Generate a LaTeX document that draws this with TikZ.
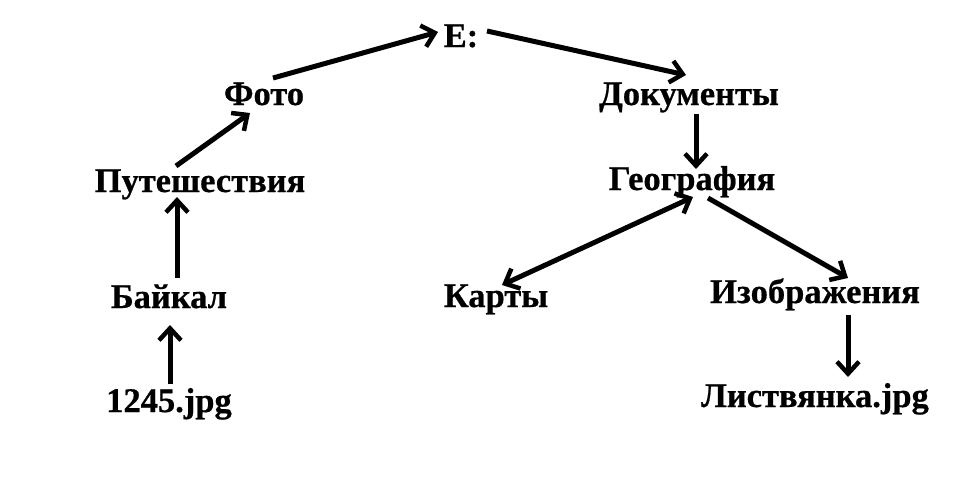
\documentclass[tikz,border=0pt]{standalone}
\usepackage{fontspec}
\setmainfont{Liberation Serif}[BoldFeatures={FakeBold=0.6}]
\usetikzlibrary{arrows.meta,calc}
\tikzset{barb/.tip={Straight Barb[length=12pt,width=22pt,line width=4.5pt]}}
\begin{document}
\begin{tikzpicture}[x=1pt,y=-1pt,
  lbl/.style={font=\fontsize{34.5}{38}\selectfont\bfseries, inner sep=0pt, anchor=base},
  arr/.style={line width=5pt, -barb},
  darr/.style={line width=5pt, barb-barb}]
\useasboundingbox (0,0) rectangle (962,485);
\node[lbl] (e) at (461,47) {E:};
\node[lbl] (foto) at (264,105) {Фото};
\node[lbl] (doc) at (689,105) {Документы};
\node[lbl] (put) at (200,192) {Путешествия};
\node[lbl] (geo) at (692,190) {География};
\node[lbl] (bai) at (169,308) {Байкал};
\node[lbl] (kar) at (496,307) {Карты};
\node[lbl] (izo) at (815,303) {Изображения};
\node[lbl] (jpg) at (169,412) {1245.jpg};
\node[lbl] (lis) at (815,407) {Листвянка.jpg};
\draw[arr] ($(foto.base)+(9,-27)$) -- ($(e.base)+(-23,-15)$);
\draw[arr] ($(e.base)+(26,-16)$) -- ($(doc.base)+(-3,-30)$);
\draw[arr] ($(put.base)+(-24,-26)$) -- ($(foto.base)+(-14,8)$);
\draw[arr] ($(bai.base)+(8,-30)$) -- ($(put.base)+(-23,5)$);
\draw[arr] ($(jpg.base)+(1,-28)$) -- ($(bai.base)+(1,17)$);
\draw[arr] ($(doc.base)+(7,9)$) -- ($(geo.base)+(4,-21)$);
\draw[darr] ($(geo.base)+(1,7)$) -- ($(kar.base)+(6,-22)$);
\draw[arr] ($(geo.base)+(16,8)$) -- ($(izo.base)+(33,-25)$);
\draw[arr] ($(izo.base)+(33,12)$) -- ($(lis.base)+(33,-30)$);
\end{tikzpicture}
\end{document}
